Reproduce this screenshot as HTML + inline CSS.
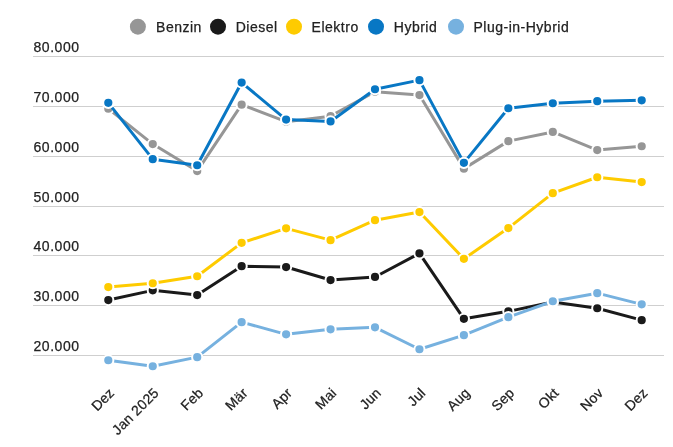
<!DOCTYPE html>
<html><head><meta charset="utf-8"><style>
html,body{margin:0;padding:0;background:#fff;}
body{width:673px;height:447px;overflow:hidden;}
svg{display:block;font-family:"Liberation Sans",sans-serif;will-change:transform;}
.yl{font-size:14px;fill:#222;stroke:#222;stroke-width:0.25px;letter-spacing:0.55px;}
.xl{font-size:14px;fill:#222;stroke:#222;stroke-width:0.25px;letter-spacing:0.2px;}
.lg{font-size:14px;fill:#222;stroke:#222;stroke-width:0.25px;letter-spacing:0.5px;}
</style></head><body>
<svg width="673" height="447" viewBox="0 0 673 447">
<line x1="33" x2="664" y1="56.5" y2="56.5" stroke="#cfcfcf" stroke-width="1"/>
<line x1="33" x2="664" y1="106.5" y2="106.5" stroke="#cfcfcf" stroke-width="1"/>
<line x1="33" x2="664" y1="156.5" y2="156.5" stroke="#cfcfcf" stroke-width="1"/>
<line x1="33" x2="664" y1="206.5" y2="206.5" stroke="#cfcfcf" stroke-width="1"/>
<line x1="33" x2="664" y1="255.5" y2="255.5" stroke="#cfcfcf" stroke-width="1"/>
<line x1="33" x2="664" y1="305.5" y2="305.5" stroke="#cfcfcf" stroke-width="1"/>
<line x1="33" x2="664" y1="355.5" y2="355.5" stroke="#cfcfcf" stroke-width="1"/>
<text x="33.5" y="52.0" class="yl">80.000</text>
<text x="33.5" y="102.0" class="yl">70.000</text>
<text x="33.5" y="152.0" class="yl">60.000</text>
<text x="33.5" y="202.0" class="yl">50.000</text>
<text x="33.5" y="251.0" class="yl">40.000</text>
<text x="33.5" y="301.0" class="yl">30.000</text>
<text x="33.5" y="351.0" class="yl">20.000</text>
<text class="xl" text-anchor="end" transform="translate(115.2,393.8) rotate(-45)">Dez</text>
<text class="xl" text-anchor="end" transform="translate(159.7,393.8) rotate(-45)">Jan 2025</text>
<text class="xl" text-anchor="end" transform="translate(204.1,393.8) rotate(-45)">Feb</text>
<text class="xl" text-anchor="end" transform="translate(248.6,393.8) rotate(-45)">Mär</text>
<text class="xl" text-anchor="end" transform="translate(293.0,393.8) rotate(-45)">Apr</text>
<text class="xl" text-anchor="end" transform="translate(337.4,393.8) rotate(-45)">Mai</text>
<text class="xl" text-anchor="end" transform="translate(381.9,393.8) rotate(-45)">Jun</text>
<text class="xl" text-anchor="end" transform="translate(426.4,393.8) rotate(-45)">Jul</text>
<text class="xl" text-anchor="end" transform="translate(470.8,393.8) rotate(-45)">Aug</text>
<text class="xl" text-anchor="end" transform="translate(515.2,393.8) rotate(-45)">Sep</text>
<text class="xl" text-anchor="end" transform="translate(559.7,393.8) rotate(-45)">Okt</text>
<text class="xl" text-anchor="end" transform="translate(604.1,393.8) rotate(-45)">Nov</text>
<text class="xl" text-anchor="end" transform="translate(648.6,393.8) rotate(-45)">Dez</text>
<polyline points="108.30,108.65 152.75,144.05 197.20,171.05 241.65,104.65 286.10,121.65 330.55,116.15 375.00,91.75 419.45,95.05 463.90,168.65 508.35,141.15 552.80,131.95 597.25,150.05 641.70,146.25" fill="none" stroke="#969696" stroke-width="3" stroke-linejoin="round"/>
<circle cx="108.30" cy="108.65" r="5.1" fill="#969696" stroke="#fff" stroke-width="2"/>
<circle cx="152.75" cy="144.05" r="5.1" fill="#969696" stroke="#fff" stroke-width="2"/>
<circle cx="197.20" cy="171.05" r="5.1" fill="#969696" stroke="#fff" stroke-width="2"/>
<circle cx="241.65" cy="104.65" r="5.1" fill="#969696" stroke="#fff" stroke-width="2"/>
<circle cx="286.10" cy="121.65" r="5.1" fill="#969696" stroke="#fff" stroke-width="2"/>
<circle cx="330.55" cy="116.15" r="5.1" fill="#969696" stroke="#fff" stroke-width="2"/>
<circle cx="375.00" cy="91.75" r="5.1" fill="#969696" stroke="#fff" stroke-width="2"/>
<circle cx="419.45" cy="95.05" r="5.1" fill="#969696" stroke="#fff" stroke-width="2"/>
<circle cx="463.90" cy="168.65" r="5.1" fill="#969696" stroke="#fff" stroke-width="2"/>
<circle cx="508.35" cy="141.15" r="5.1" fill="#969696" stroke="#fff" stroke-width="2"/>
<circle cx="552.80" cy="131.95" r="5.1" fill="#969696" stroke="#fff" stroke-width="2"/>
<circle cx="597.25" cy="150.05" r="5.1" fill="#969696" stroke="#fff" stroke-width="2"/>
<circle cx="641.70" cy="146.25" r="5.1" fill="#969696" stroke="#fff" stroke-width="2"/>
<polyline points="108.30,300.05 152.75,290.35 197.20,295.05 241.65,266.15 286.10,267.05 330.55,280.05 375.00,276.95 419.45,253.35 463.90,318.85 508.35,311.35 552.80,302.05 597.25,308.25 641.70,320.15" fill="none" stroke="#1a1a1a" stroke-width="3" stroke-linejoin="round"/>
<circle cx="108.30" cy="300.05" r="5.1" fill="#1a1a1a" stroke="#fff" stroke-width="2"/>
<circle cx="152.75" cy="290.35" r="5.1" fill="#1a1a1a" stroke="#fff" stroke-width="2"/>
<circle cx="197.20" cy="295.05" r="5.1" fill="#1a1a1a" stroke="#fff" stroke-width="2"/>
<circle cx="241.65" cy="266.15" r="5.1" fill="#1a1a1a" stroke="#fff" stroke-width="2"/>
<circle cx="286.10" cy="267.05" r="5.1" fill="#1a1a1a" stroke="#fff" stroke-width="2"/>
<circle cx="330.55" cy="280.05" r="5.1" fill="#1a1a1a" stroke="#fff" stroke-width="2"/>
<circle cx="375.00" cy="276.95" r="5.1" fill="#1a1a1a" stroke="#fff" stroke-width="2"/>
<circle cx="419.45" cy="253.35" r="5.1" fill="#1a1a1a" stroke="#fff" stroke-width="2"/>
<circle cx="463.90" cy="318.85" r="5.1" fill="#1a1a1a" stroke="#fff" stroke-width="2"/>
<circle cx="508.35" cy="311.35" r="5.1" fill="#1a1a1a" stroke="#fff" stroke-width="2"/>
<circle cx="552.80" cy="302.05" r="5.1" fill="#1a1a1a" stroke="#fff" stroke-width="2"/>
<circle cx="597.25" cy="308.25" r="5.1" fill="#1a1a1a" stroke="#fff" stroke-width="2"/>
<circle cx="641.70" cy="320.15" r="5.1" fill="#1a1a1a" stroke="#fff" stroke-width="2"/>
<polyline points="108.30,287.05 152.75,283.25 197.20,276.25 241.65,242.85 286.10,228.35 330.55,240.15 375.00,220.15 419.45,212.05 463.90,258.85 508.35,228.05 552.80,193.15 597.25,177.25 641.70,182.05" fill="none" stroke="#fecb00" stroke-width="3" stroke-linejoin="round"/>
<circle cx="108.30" cy="287.05" r="5.1" fill="#fecb00" stroke="#fff" stroke-width="2"/>
<circle cx="152.75" cy="283.25" r="5.1" fill="#fecb00" stroke="#fff" stroke-width="2"/>
<circle cx="197.20" cy="276.25" r="5.1" fill="#fecb00" stroke="#fff" stroke-width="2"/>
<circle cx="241.65" cy="242.85" r="5.1" fill="#fecb00" stroke="#fff" stroke-width="2"/>
<circle cx="286.10" cy="228.35" r="5.1" fill="#fecb00" stroke="#fff" stroke-width="2"/>
<circle cx="330.55" cy="240.15" r="5.1" fill="#fecb00" stroke="#fff" stroke-width="2"/>
<circle cx="375.00" cy="220.15" r="5.1" fill="#fecb00" stroke="#fff" stroke-width="2"/>
<circle cx="419.45" cy="212.05" r="5.1" fill="#fecb00" stroke="#fff" stroke-width="2"/>
<circle cx="463.90" cy="258.85" r="5.1" fill="#fecb00" stroke="#fff" stroke-width="2"/>
<circle cx="508.35" cy="228.05" r="5.1" fill="#fecb00" stroke="#fff" stroke-width="2"/>
<circle cx="552.80" cy="193.15" r="5.1" fill="#fecb00" stroke="#fff" stroke-width="2"/>
<circle cx="597.25" cy="177.25" r="5.1" fill="#fecb00" stroke="#fff" stroke-width="2"/>
<circle cx="641.70" cy="182.05" r="5.1" fill="#fecb00" stroke="#fff" stroke-width="2"/>
<polyline points="108.30,102.85 152.75,159.15 197.20,165.25 241.65,82.55 286.10,119.55 330.55,121.45 375.00,89.25 419.45,80.15 463.90,162.85 508.35,108.25 552.80,103.25 597.25,101.15 641.70,100.35" fill="none" stroke="#0877c4" stroke-width="3" stroke-linejoin="round"/>
<circle cx="108.30" cy="102.85" r="5.1" fill="#0877c4" stroke="#fff" stroke-width="2"/>
<circle cx="152.75" cy="159.15" r="5.1" fill="#0877c4" stroke="#fff" stroke-width="2"/>
<circle cx="197.20" cy="165.25" r="5.1" fill="#0877c4" stroke="#fff" stroke-width="2"/>
<circle cx="241.65" cy="82.55" r="5.1" fill="#0877c4" stroke="#fff" stroke-width="2"/>
<circle cx="286.10" cy="119.55" r="5.1" fill="#0877c4" stroke="#fff" stroke-width="2"/>
<circle cx="330.55" cy="121.45" r="5.1" fill="#0877c4" stroke="#fff" stroke-width="2"/>
<circle cx="375.00" cy="89.25" r="5.1" fill="#0877c4" stroke="#fff" stroke-width="2"/>
<circle cx="419.45" cy="80.15" r="5.1" fill="#0877c4" stroke="#fff" stroke-width="2"/>
<circle cx="463.90" cy="162.85" r="5.1" fill="#0877c4" stroke="#fff" stroke-width="2"/>
<circle cx="508.35" cy="108.25" r="5.1" fill="#0877c4" stroke="#fff" stroke-width="2"/>
<circle cx="552.80" cy="103.25" r="5.1" fill="#0877c4" stroke="#fff" stroke-width="2"/>
<circle cx="597.25" cy="101.15" r="5.1" fill="#0877c4" stroke="#fff" stroke-width="2"/>
<circle cx="641.70" cy="100.35" r="5.1" fill="#0877c4" stroke="#fff" stroke-width="2"/>
<polyline points="108.30,360.25 152.75,366.25 197.20,357.15 241.65,322.15 286.10,334.35 330.55,329.35 375.00,327.35 419.45,349.25 463.90,335.15 508.35,317.15 552.80,301.25 597.25,293.15 641.70,304.35" fill="none" stroke="#76b1df" stroke-width="3" stroke-linejoin="round"/>
<circle cx="108.30" cy="360.25" r="5.1" fill="#76b1df" stroke="#fff" stroke-width="2"/>
<circle cx="152.75" cy="366.25" r="5.1" fill="#76b1df" stroke="#fff" stroke-width="2"/>
<circle cx="197.20" cy="357.15" r="5.1" fill="#76b1df" stroke="#fff" stroke-width="2"/>
<circle cx="241.65" cy="322.15" r="5.1" fill="#76b1df" stroke="#fff" stroke-width="2"/>
<circle cx="286.10" cy="334.35" r="5.1" fill="#76b1df" stroke="#fff" stroke-width="2"/>
<circle cx="330.55" cy="329.35" r="5.1" fill="#76b1df" stroke="#fff" stroke-width="2"/>
<circle cx="375.00" cy="327.35" r="5.1" fill="#76b1df" stroke="#fff" stroke-width="2"/>
<circle cx="419.45" cy="349.25" r="5.1" fill="#76b1df" stroke="#fff" stroke-width="2"/>
<circle cx="463.90" cy="335.15" r="5.1" fill="#76b1df" stroke="#fff" stroke-width="2"/>
<circle cx="508.35" cy="317.15" r="5.1" fill="#76b1df" stroke="#fff" stroke-width="2"/>
<circle cx="552.80" cy="301.25" r="5.1" fill="#76b1df" stroke="#fff" stroke-width="2"/>
<circle cx="597.25" cy="293.15" r="5.1" fill="#76b1df" stroke="#fff" stroke-width="2"/>
<circle cx="641.70" cy="304.35" r="5.1" fill="#76b1df" stroke="#fff" stroke-width="2"/>
<circle cx="137.9" cy="26.7" r="8" fill="#969696"/>
<text x="156.1" y="32.2" class="lg">Benzin</text>
<circle cx="218" cy="26.7" r="8" fill="#1a1a1a"/>
<text x="235.7" y="32.2" class="lg">Diesel</text>
<circle cx="294" cy="26.7" r="8" fill="#fecb00"/>
<text x="311.6" y="32.2" class="lg">Elektro</text>
<circle cx="376" cy="26.7" r="8" fill="#0877c4"/>
<text x="393.8" y="32.2" class="lg">Hybrid</text>
<circle cx="456" cy="26.7" r="8" fill="#76b1df"/>
<text x="473.5" y="32.2" class="lg">Plug-in-Hybrid</text>
</svg>
</body></html>
